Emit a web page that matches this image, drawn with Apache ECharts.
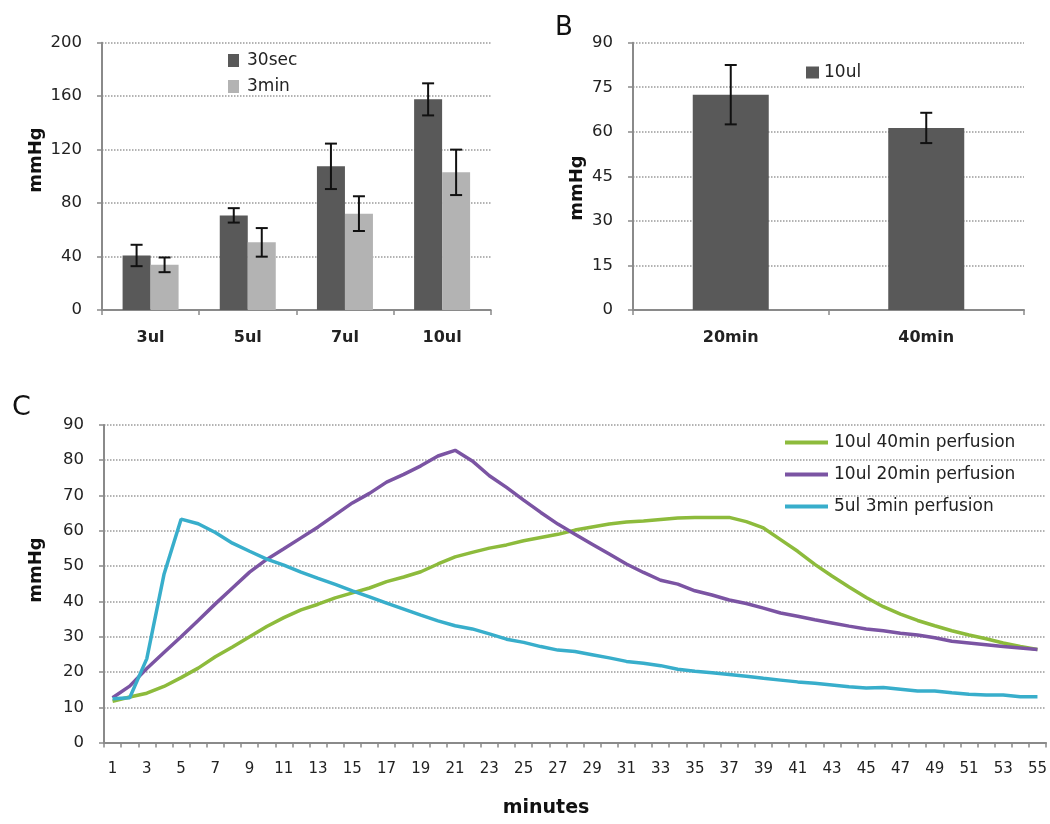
<!DOCTYPE html>
<html><head><meta charset="utf-8">
<script src="https://cdn.jsdelivr.net/npm/echarts@6/dist/echarts.min.js"></script>
<style>html,body{margin:0;padding:0;background:#fff}#c{width:1050px;height:824px}</style>
</head><body><div id="c"></div>
<script>
// ---- Panel A data ----
const doseCats = ['3ul', '5ul', '7ul', '10ul'];
const mean30sec = [40.8, 70.8, 107.5, 157.6];
const err30sec = [8, 5.4, 17, 12];
const mean3min = [33.8, 50.6, 72.1, 103];
const err3min = [5.5, 10.7, 13, 17];
const yTicksA = [0, 40, 80, 120, 160, 200];

// ---- Panel B data ----
const durCats = ['20min', '40min'];
const mean10ul = [72.5, 61.3];
const err10ul = [10, 5.1];
const yTicksB = [0, 15, 30, 45, 60, 75, 90];

// ---- Panel C data ----
const minutes = ['1','2','3','4','5','6','7','8','9','10','11','12','13','14','15','16','17','18','19','20',
  '21','22','23','24','25','26','27','28','29','30','31','32','33','34','35','36','37','38','39','40',
  '41','42','43','44','45','46','47','48','49','50','51','52','53','54','55'];
const perf40min10ul = [11.7, 12.9, 14, 15.9, 18.4, 21.1, 24.3, 27.1, 30, 32.9,
  35.4, 37.6, 39.2, 41, 42.4, 43.8, 45.6, 46.9, 48.4, 50.6,
  52.6, 53.9, 55.1, 56, 57.2, 58.1, 59, 60.2, 61.1, 61.9,
  62.5, 62.8, 63.2, 63.6, 63.8, 63.8, 63.8, 62.6, 60.8, 57.5,
  54.2, 50.5, 47.2, 44.1, 41.1, 38.5, 36.4, 34.6, 33.1, 31.7,
  30.5, 29.4, 28.2, 27.2, 26.4];
const perf20min10ul = [12.7, 16, 21, 25.5, 30, 34.6, 39.3, 43.8, 48.3, 51.9,
  54.9, 58, 61.1, 64.5, 67.9, 70.6, 73.8, 76, 78.4, 81.2,
  82.8, 79.8, 75.6, 72.3, 68.7, 65.2, 61.9, 59, 56.2, 53.4,
  50.6, 48.2, 46, 44.9, 43, 41.8, 40.4, 39.4, 38.1, 36.7,
  35.8, 34.8, 33.9, 33, 32.2, 31.7, 31, 30.5, 29.7, 28.7,
  28.2, 27.7, 27.2, 26.8, 26.4];
const perf3min5ul = [12.4, 12.7, 23.8, 47.6, 63.3, 62, 59.5, 56.5, 54.2, 52,
  50.3, 48.3, 46.5, 44.8, 43, 41.3, 39.5, 37.8, 36.1, 34.5,
  33.1, 32.2, 30.8, 29.3, 28.4, 27.2, 26.2, 25.8, 24.9, 24,
  23, 22.5, 21.8, 20.8, 20.2, 19.8, 19.3, 18.8, 18.2, 17.7,
  17.2, 16.8, 16.3, 15.8, 15.5, 15.6, 15.1, 14.6, 14.6, 14.1,
  13.7, 13.5, 13.5, 13, 13];
const yTicksC = [0, 10, 20, 30, 40, 50, 60, 70, 80, 90];

// ---- styles ----
const TXT = '#222';
const FONT = 'DejaVu Sans';
const darkBar = '#595959', lightBar = '#b3b3b3';
const green = '#8dbb3c', purple = '#7b54a3', cyan = '#38aecb';

function errorBars(xi, yi, means, errs, offset) {
  return {
    type: 'custom', xAxisIndex: xi, yAxisIndex: yi, z: 10, silent: true,
    encode: { x: 0, y: [1, 2] },
    data: means.map((m, i) => [i, m - errs[i], m + errs[i]]),
    renderItem(params, api) {
      const lo = api.coord([api.value(0), api.value(1)]);
      const hi = api.coord([api.value(0), api.value(2)]);
      const x = lo[0] + offset, hw = 6;
      const st = { stroke: '#111', lineWidth: 2 };
      return { type: 'group', children: [
        { type: 'line', shape: { x1: x, y1: lo[1], x2: x, y2: hi[1] }, style: st },
        { type: 'line', shape: { x1: x - hw, y1: lo[1], x2: x + hw, y2: lo[1] }, style: st },
        { type: 'line', shape: { x1: x - hw, y1: hi[1], x2: x + hw, y2: hi[1] }, style: st }
      ]};
    }
  };
}

function valAxis(gi, ticks) {
  return {
    type: 'value', gridIndex: gi, min: ticks[0], max: ticks[ticks.length - 1],
    interval: ticks[1] - ticks[0],
    axisLine: { show: true, lineStyle: { color: '#8a8a8a', width: 2 } },
    axisTick: { show: true, length: 5, lineStyle: { color: '#8a8a8a', width: 1.5 } },
    axisLabel: { color: TXT, fontSize: 16.5, fontFamily: FONT, margin: 20 },
    splitLine: { show: true, lineStyle: { color: '#9a9a9a', type: 'dotted', width: 1.5 } }
  };
}
function catAxis(gi, cats, label) {
  return {
    type: 'category', gridIndex: gi, data: cats, boundaryGap: true,
    axisLine: { show: true, lineStyle: { color: '#8a8a8a', width: 2 } },
    axisTick: { show: true, length: 5, interval: 0, lineStyle: { color: '#8a8a8a', width: 1.5 } },
    axisLabel: label
  };
}

const chart = echarts.init(document.getElementById('c'), null, { renderer: 'canvas' });
chart.setOption({
  animation: false,
  backgroundColor: '#fff',
  textStyle: { fontFamily: FONT },
  grid: [
    { left: 102, top: 42.7, width: 388.7, height: 267.3 },
    { left: 633, top: 42.7, width: 391, height: 267.3 },
    { left: 104, top: 424.9, width: 942.7, height: 317.7 }
  ],
  xAxis: [
    catAxis(0, doseCats, { color: TXT, fontSize: 16, fontWeight: 'bold', fontFamily: FONT, margin: 20 }),
    catAxis(1, durCats, { color: TXT, fontSize: 16, fontWeight: 'bold', fontFamily: FONT, margin: 20 }),
    catAxis(2, minutes, { color: TXT, fontSize: 15, fontFamily: FONT, margin: 19, interval: 1 })
  ],
  yAxis: [valAxis(0, yTicksA), valAxis(1, yTicksB), valAxis(2, yTicksC)],
  legend: [
    { data: ['30sec', '3min'], orient: 'vertical', left: 228, top: 52, padding: 0, icon: 'rect',
      itemWidth: 11, itemHeight: 13, itemGap: 9,
      textStyle: { color: TXT, fontSize: 17, fontFamily: FONT, padding: [0, 0, 0, 3] } },
    { data: ['10ul'], left: 806, top: 64, padding: 0, icon: 'rect', itemWidth: 13, itemHeight: 12,
      textStyle: { color: TXT, fontSize: 17, fontFamily: FONT } },
    { data: ['10ul 40min perfusion', '10ul 20min perfusion', '5ul 3min perfusion'],
      orient: 'vertical', left: 785, top: 434, padding: 0, icon: 'rect', itemWidth: 43, itemHeight: 4,
      itemGap: 15, textStyle: { color: TXT, fontSize: 17, fontFamily: FONT, padding: [0, 0, 0, 1] } }
  ],
  series: [
    { name: '30sec', type: 'bar', xAxisIndex: 0, yAxisIndex: 0, data: mean30sec,
      barWidth: 28, barGap: '0%', itemStyle: { color: darkBar } },
    { name: '3min', type: 'bar', xAxisIndex: 0, yAxisIndex: 0, data: mean3min,
      barWidth: 28, barGap: '0%', itemStyle: { color: lightBar } },
    errorBars(0, 0, mean30sec, err30sec, -14),
    errorBars(0, 0, mean3min, err3min, 14),
    { name: '10ul', type: 'bar', xAxisIndex: 1, yAxisIndex: 1, data: mean10ul,
      barWidth: 76, itemStyle: { color: darkBar } },
    errorBars(1, 1, mean10ul, err10ul, 0),
    { name: '10ul 40min perfusion', type: 'line', xAxisIndex: 2, yAxisIndex: 2, data: perf40min10ul,
      showSymbol: false, symbol: 'none', color: green, lineStyle: { color: green, width: 3.5 } },
    { name: '10ul 20min perfusion', type: 'line', xAxisIndex: 2, yAxisIndex: 2, data: perf20min10ul,
      showSymbol: false, symbol: 'none', color: purple, lineStyle: { color: purple, width: 3.5 } },
    { name: '5ul 3min perfusion', type: 'line', xAxisIndex: 2, yAxisIndex: 2, data: perf3min5ul,
      showSymbol: false, symbol: 'none', color: cyan, lineStyle: { color: cyan, width: 3.5 } }
  ],
  graphic: [
    { type: 'text', left: 555, top: 15, style: { text: 'B', fontSize: 26, fontFamily: FONT, fill: '#111' } },
    { type: 'text', left: 12, top: 394, style: { text: 'C', fontSize: 27, fontFamily: FONT, fill: '#111' } },
    { type: 'text', x: 36, y: 160, rotation: Math.PI / 2,
      style: { text: 'mmHg', fontSize: 18, fontWeight: 'bold', fontFamily: FONT, fill: '#111', align: 'center', verticalAlign: 'middle' } },
    { type: 'text', x: 577, y: 188, rotation: Math.PI / 2,
      style: { text: 'mmHg', fontSize: 18, fontWeight: 'bold', fontFamily: FONT, fill: '#111', align: 'center', verticalAlign: 'middle' } },
    { type: 'text', x: 36, y: 570, rotation: Math.PI / 2,
      style: { text: 'mmHg', fontSize: 18, fontWeight: 'bold', fontFamily: FONT, fill: '#111', align: 'center', verticalAlign: 'middle' } },
    { type: 'text', x: 546, y: 808,
      style: { text: 'minutes', fontSize: 19, fontWeight: 'bold', fontFamily: FONT, fill: '#111', align: 'center', verticalAlign: 'middle' } }
  ]
});
</script></body></html>
